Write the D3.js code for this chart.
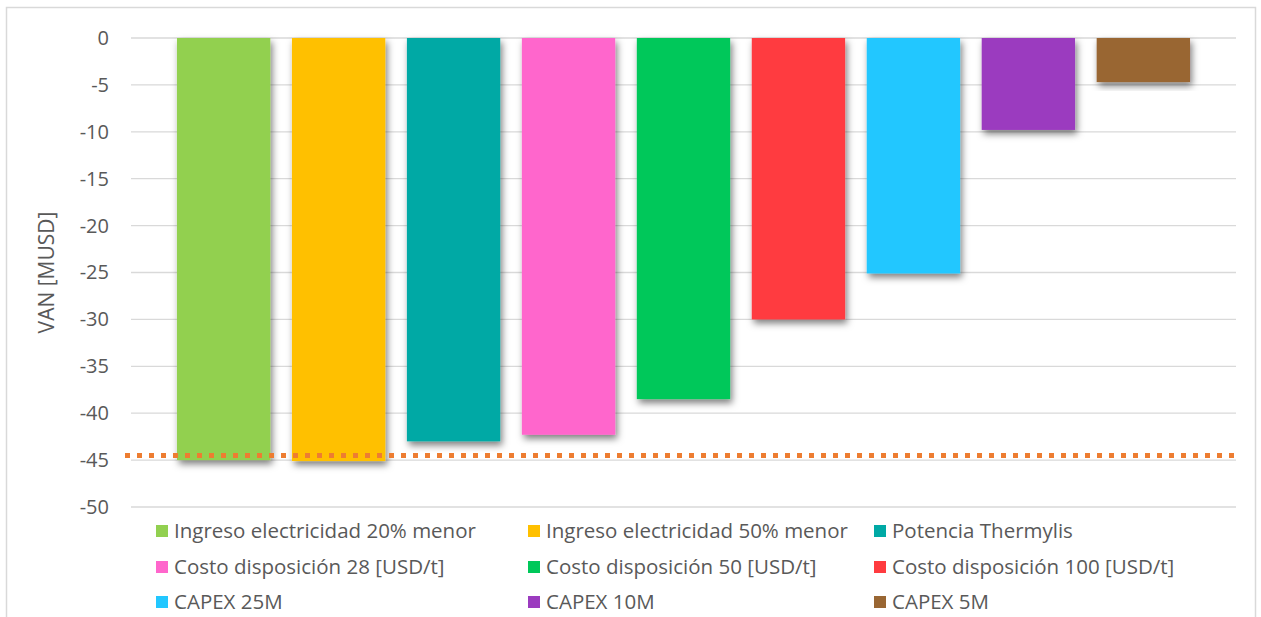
<!DOCTYPE html>
<html>
<head>
<meta charset="utf-8">
<script src="https://cdn.jsdelivr.net/npm/d3@7"></script>
<style>
  body { margin: 0; background: #fff; }
  text { font-family: "Open Sans", "DejaVu Sans", sans-serif; fill: #595959; }
</style>
</head>
<body>
<div id="chart"></div>
<script>
// escenarios de sensibilidad
const categories = [
  "Ingreso electricidad 20% menor",
  "Ingreso electricidad 50% menor",
  "Potencia Thermylis",
  "Costo disposición 28 [USD/t]",
  "Costo disposición 50 [USD/t]",
  "Costo disposición 100 [USD/t]",
  "CAPEX 25M",
  "CAPEX 10M",
  "CAPEX 5M"
];
const vanValues = [-45.0, -45.1, -43.0, -42.3, -38.5, -30.0, -25.1, -9.8, -4.7];
const barColors = ["#92d050", "#ffc000", "#00a9a5", "#ff66cc", "#00c85a", "#ff3b3f", "#22c7ff", "#9b3bbf", "#996633"];
const baseLine = [-44.5];
const yTicks = [0, -5, -10, -15, -20, -25, -30, -35, -40, -45, -50];

const W = 1261, H = 617;
const margin = {top: 38, left: 131, right: 25, plotBottom: 507};

const svg = d3.select("#chart").append("svg")
  .attr("width", W)
  .attr("height", H);

// sombra de las barras
const defs = svg.append("defs");
const f = defs.append("filter").attr("id", "shadow")
  .attr("x", "-20%").attr("y", "-20%").attr("width", "140%").attr("height", "140%");
f.append("feDropShadow")
  .attr("dx", 2).attr("dy", 4).attr("stdDeviation", 3.5)
  .attr("flood-color", "#000").attr("flood-opacity", 0.5);

// marco
svg.append("rect")
  .attr("x", 6.5).attr("y", 7.5)
  .attr("width", 1249).attr("height", 640)
  .attr("fill", "none").attr("stroke", "#d9d9d9").attr("stroke-width", 1.5);

const y = d3.scaleLinear()
  .domain([0, -50])
  .range([margin.top, margin.plotBottom]);

const x = d3.scaleBand()
  .domain(categories)
  .range([margin.left, W - margin.right])
  .paddingInner(0.188)
  .paddingOuter(0.4);

// grilla
svg.append("g")
  .selectAll("line")
  .data(yTicks)
  .join("line")
  .attr("x1", margin.left).attr("x2", W - margin.right)
  .attr("y1", d => y(d)).attr("y2", d => y(d))
  .attr("stroke", "#d9d9d9").attr("stroke-width", 1.3);

// eje y
const yAxis = svg.append("g")
  .attr("transform", `translate(${margin.left - 22},0)`)
  .call(d3.axisLeft(y).tickValues(yTicks).tickSize(0).tickPadding(0)
    .tickFormat(d => String(d)));
yAxis.select(".domain").remove();
yAxis.selectAll("text")
  .style("font-size", "20px")
  .style("fill", "#595959")
  .style("font-family", "Open Sans, sans-serif");

svg.append("text")
  .attr("transform", `translate(54,${(margin.top + margin.plotBottom) / 2}) rotate(-90)`)
  .attr("text-anchor", "middle")
  .style("font-size", "21px")
  .text("VAN [MUSD]");

// barras
svg.append("g")
  .selectAll("rect")
  .data(vanValues)
  .join("rect")
  .attr("x", (d, i) => x(categories[i]))
  .attr("width", x.bandwidth())
  .attr("y", y(0))
  .attr("height", d => y(d) - y(0))
  .attr("fill", (d, i) => barColors[i])
  .attr("filter", "url(#shadow)");

// línea base punteada
svg.append("g")
  .selectAll("line")
  .data(baseLine)
  .join("line")
  .attr("x1", margin.left - 6).attr("x2", W - margin.right)
  .attr("y1", d => y(d)).attr("y2", d => y(d))
  .attr("stroke", "#ed7d31")
  .attr("stroke-width", 5)
  .attr("stroke-dasharray", "5,7");

// leyenda
const colX = [156, 528, 874];
const rowY = [531, 567, 602];
const legend = svg.append("g")
  .selectAll("g")
  .data(categories)
  .join("g")
  .attr("transform", (d, i) => `translate(${colX[i % 3]},${rowY[Math.floor(i / 3)]})`);
legend.append("rect")
  .attr("x", 0).attr("y", -6)
  .attr("width", 12).attr("height", 12)
  .attr("fill", (d, i) => barColors[i]);
legend.append("text")
  .attr("x", 18).attr("dy", "0.35em")
  .style("font-size", "20.5px")
  .text(d => d);
</script>
</body>
</html>
